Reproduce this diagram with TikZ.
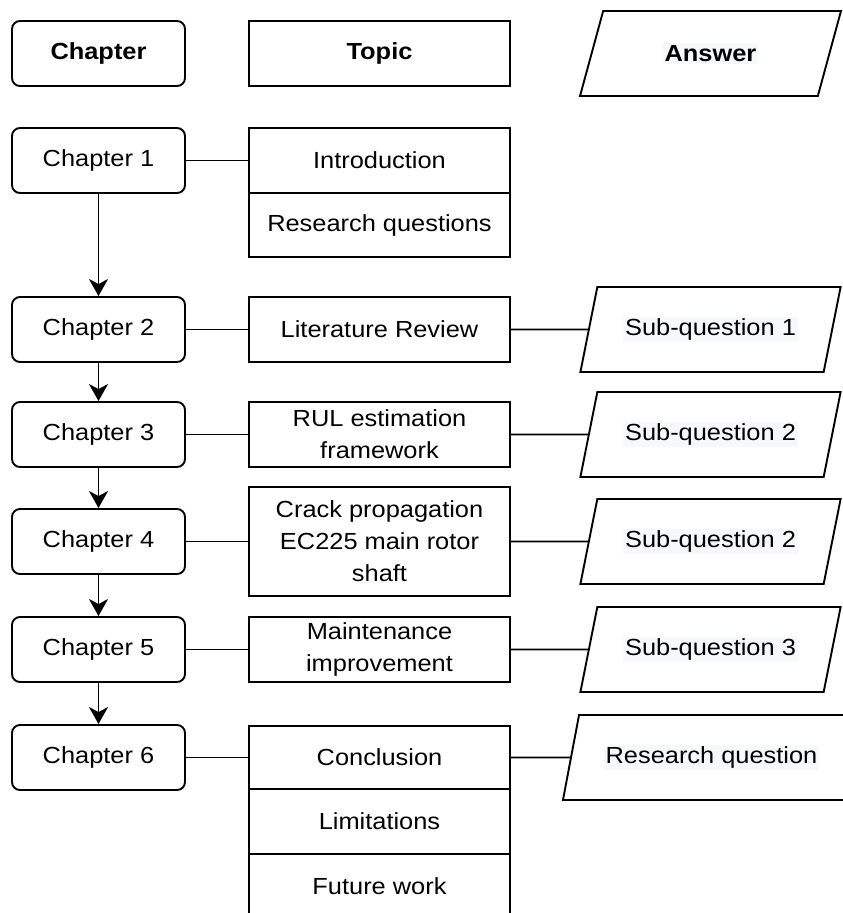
\documentclass[tikz,border=0pt]{standalone}
\usepackage{fontspec}
\setmainfont[FakeStretch=1.09]{Liberation Sans}
\usepackage{tikz}
\usetikzlibrary{shapes.geometric,arrows.meta}
\definecolor{lblgray}{RGB}{247,248,249}
\newcommand{\anstext}[1]{{\setlength{\fboxsep}{2pt}\colorbox{lblgray}{#1}}}

\begin{document}
\begin{tikzpicture}[x=1pt,y=-1pt,line width=1.9pt,draw=black,font=\fontsize{23.3}{32}\selectfont]
    \tikzstyle{chapter}=[rectangle,draw,rounded corners=8pt,minimum width=173pt,minimum height=65pt,inner sep=0pt]
    \tikzstyle{topic}=[rectangle,draw,minimum width=261pt,minimum height=65pt,inner sep=0pt,align=center]
    \tikzstyle{answer}=[trapezium,draw,trapezium left angle=63,trapezium right angle=117,trapezium stretches=true,minimum width=261pt,minimum height=85pt,inner sep=0pt]
    \tikzstyle{next}=[-{Stealth[length=17pt,width=19pt,inset=5pt]}]

    \useasboundingbox (0,0) rectangle (843,913);

    % Column headers
    \node[chapter] (H-ch) at (98.5,53.5) {\textbf{Chapter}};
    \node[topic] (H-tp) at (379.5,53.5) {\textbf{Topic}};
    \node[answer] (H-an) at (710.5,53.5) {\anstext{\textbf{Answer}}};

    % Draw the chapter nodes
    \foreach \name / \y in {1/160.5,2/329.5,3/434.5,4/541.5,5/649.5,6/757.5}
        \node[chapter] (C-\name) at (98.5,\y) {Chapter \name};

    % Draw the topic nodes
    \node[topic] (T-1) at (379.5,160.5) {Introduction};
    \node[topic,minimum height=64pt] (T-1b) at (379.5,225) {Research questions};
    \node[topic] (T-2) at (379.5,329.5) {Literature Review};
    \node[topic] (T-3) at (379.5,434.5) {RUL estimation\\framework};
    \node[topic,minimum height=109pt] (T-4) at (379.5,541.5) {Crack propagation\\EC225 main rotor\\shaft};
    \node[topic] (T-5) at (379.5,649.5) {Maintenance\\improvement};
    \node[topic,minimum height=63pt] (T-6) at (379.5,757.5) {Conclusion};
    \node[topic] (T-6b) at (379.5,821.5) {Limitations};
    \node[topic] (T-6c) at (379.5,886.5) {Future work};

    % Draw the answer nodes
    \foreach \name / \y / \txt in {2/329.5/Sub-question 1,3/434.5/Sub-question 2,4/541.5/Sub-question 2,5/649.5/Sub-question 3}
        \node[answer] (A-\name) at (710.5,\y) {\anstext{\txt}};
    \node[answer,minimum width=298pt] (A-6) at (711.5,757.5) {\anstext{Research question}};

    % Connect every chapter with its topic
    \foreach \source in {1,...,6}
        \draw (C-\source) -- (T-\source);

    % Connect the topics with the answers
    \foreach \source in {2,...,6}
        \draw (T-\source) -- (A-\source);

    % Chapter order
    \foreach \source / \dest in {1/2,2/3,3/4,4/5,5/6}
        \draw[next] (C-\source) -- (C-\dest);
\end{tikzpicture}
\end{document}
